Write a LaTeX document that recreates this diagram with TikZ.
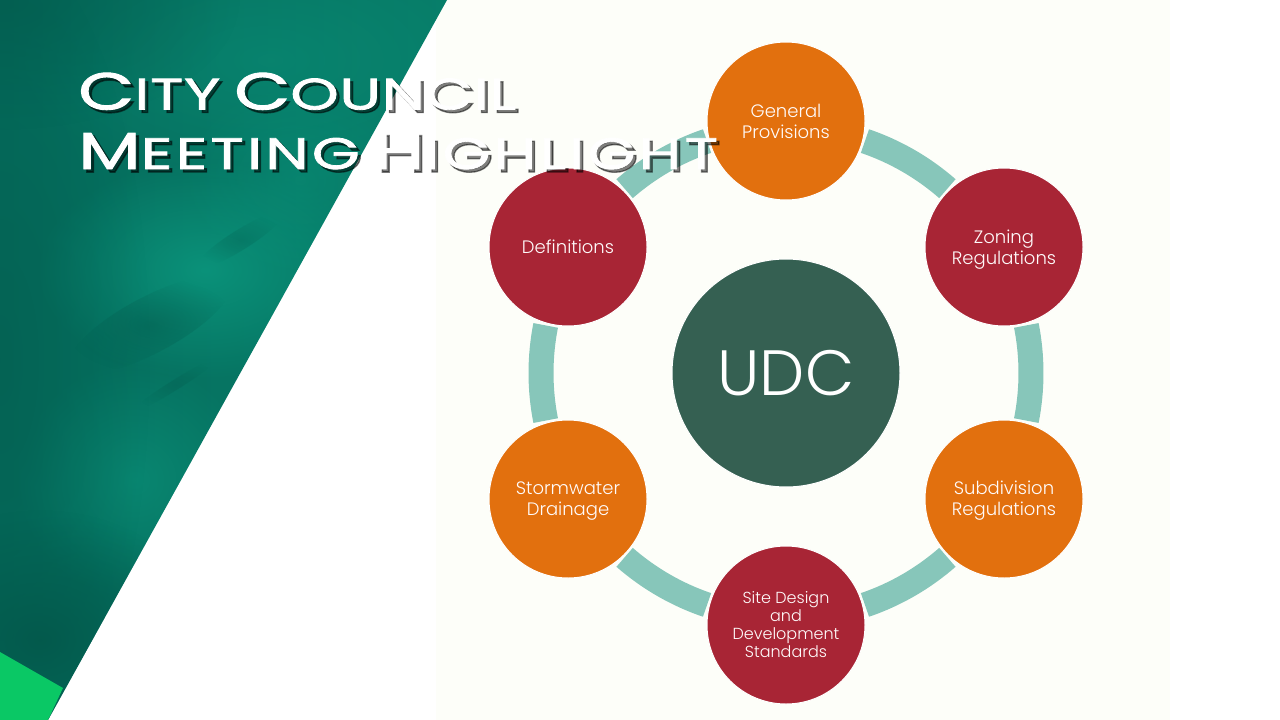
\documentclass[tikz,border=0pt]{standalone}
\usepackage{fontspec}
\setmainfont{Poppins Light}
\newfontfamily\titlefont[FakeStretch=1.4,LetterSpace=1.5,FakeBold=1.8]{Poppins}
\newfontfamily\titlewide[FakeStretch=1.4,LetterSpace=7.3,FakeBold=1.8]{Poppins}
\newfontfamily\shadowfont[FakeStretch=1.4,LetterSpace=1.5,FakeBold=3]{Poppins}
\newfontfamily\shadowwide[FakeStretch=1.4,LetterSpace=7.3,FakeBold=3]{Poppins}
\usetikzlibrary{calc,fadings}
\tikzfading[name=softspot,inner color=transparent!0,outer color=transparent!100]
\definecolor{panel}{HTML}{FDFEF9}
\definecolor{ringc}{HTML}{87C6BA}
\definecolor{orangec}{HTML}{E2700E}
\definecolor{redc}{HTML}{A82535}
\definecolor{hubc}{HTML}{356052}
\definecolor{glow}{HTML}{0C9C82}
\definecolor{mid}{HTML}{077C68}
\definecolor{base}{HTML}{056C5C}
\definecolor{deep}{HTML}{03584B}
\definecolor{lime}{HTML}{0AC865}
\newcommand{\bigc}[1]{{\fontsize{52}{52}\selectfont #1}}
\newcommand{\smc}[1]{{\fontsize{44}{44}\selectfont #1}}
\newcommand{\lineone}{\bigc{C}\smc{ITY}\hspace{14pt}\bigc{C}\smc{OUNCIL}}
\newcommand{\linetwo}{\bigc{M}\smc{EETING}\hspace{14pt}\bigc{H}\smc{IGHLIGHT}}
\newcommand{\lbl}[2]{\raisebox{-#1pt}[0pt][0pt]{\begin{tabular}{@{}c@{}}#2\end{tabular}}}
\tikzset{
 hexnode/.style={circle,minimum size=158pt,inner sep=0pt,draw=white,line width=1pt,text=white!93!pink,align=center,font=\fontsize{18}{21}\selectfont},
 orangenode/.style={hexnode,fill=orangec},
 rednode/.style={hexnode,fill=redc},
 hubnode/.style={circle,minimum size=228pt,inner sep=0pt,fill=hubc,draw=white,line width=1pt,text=white,font=\fontsize{64}{64}\selectfont},
 ringseg/.style={draw=ringc,line width=25pt,line cap=butt},
 titletext/.style={anchor=base west,inner sep=0pt,text=white},
 titleshadow/.style={anchor=base west,inner sep=0pt,text=black,text opacity=#1},
 softlight/.style={fill=glow,path fading=softspot,fill opacity=#1},
 softdark/.style={fill=deep,path fading=softspot,fill opacity=#1}
}
\begin{document}
\begin{tikzpicture}[x=1pt,y=-1pt]
\useasboundingbox (0,0) rectangle (1280,720);
\fill[white] (0,0) rectangle (1280,720);
\fill[panel] (436,0) rectangle (1170,720);
\begin{scope}
\clip (0,0) -- (447,0) -- (48,720) -- (0,720) -- cycle;
\shade[left color=base,right color=mid] (0,0) rectangle (450,720);
\fill[softlight=.75] (205,270) ellipse (170pt and 110pt);
\fill[softlight=.35] (270,60) ellipse (260pt and 130pt);
\fill[softlight=.5] (135,480) ellipse (120pt and 120pt);
\fill[softlight=.35] (300,180) ellipse (120pt and 100pt);
\fill[softdark=.45] (0,360) ellipse (150pt and 420pt);
\fill[softdark=.9] (40,640) ellipse (170pt and 130pt);
\fill[softdark=.6] (0,0) ellipse (240pt and 130pt);
\begin{scope}[shift={(150,325)},rotate=28]
\fill[softdark=.45] (0,0) ellipse (90pt and 28pt);
\end{scope}
\begin{scope}[shift={(240,240)},rotate=32]
\fill[softdark=.3] (0,0) ellipse (50pt and 10pt);
\end{scope}
\begin{scope}[shift={(175,385)},rotate=32]
\fill[softdark=.3] (0,0) ellipse (50pt and 5pt);
\end{scope}
\fill[lime] (0,652) -- (63,688) -- (48,720) -- (0,720) -- cycle;
\end{scope}
\node[hubnode] (hub) at (786,373) {UDC};
\coordinate (c) at (hub.center);
\draw[ringseg] ($(c)+(-48.8:245pt)$) coordinate (a1) arc[start angle=-48.8,end angle=-71.2,radius=245pt];
\draw[ringseg] ($(c)+(11.2:245pt)$) coordinate (a2) arc[start angle=11.2,end angle=-11.2,radius=245pt];
\draw[ringseg] ($(c)+(71.2:245pt)$) coordinate (a3) arc[start angle=71.2,end angle=48.8,radius=245pt];
\draw[ringseg] ($(c)+(131.2:245pt)$) coordinate (a4) arc[start angle=131.2,end angle=108.8,radius=245pt];
\draw[ringseg] ($(c)+(191.2:245pt)$) coordinate (a5) arc[start angle=191.2,end angle=168.8,radius=245pt];
\draw[ringseg] ($(c)+(251.2:245pt)$) coordinate (a6) arc[start angle=251.2,end angle=228.8,radius=245pt];
\node[orangenode] (gen) at (786,121) {\lbl{7}{General\\Provisions}};
\node[rednode] (zon) at (1004,247) {\lbl{7}{Zoning\\Regulations}};
\node[orangenode] (sub) at (1004,499) {\lbl{6}{Subdivision\\Regulations}};
\node[rednode,font=\fontsize{16}{18}\selectfont] (site) at (786,625) {Site Design\\and\\Development\\Standards};
\node[orangenode] (storm) at (568,499) {\lbl{6}{Stormwater\\Drainage}};
\node[rednode] (defs) at (568,247) {Definitions};
\node[titleshadow=.5,font=\shadowfont] (s1) at (81,112.5) {\lineone};
\node[titleshadow=.5,font=\shadowwide] (s2) at (81,172) {\linetwo};
\node[titletext,font=\titlefont] (t1) at (78,109.5) {\lineone};
\node[titletext,font=\titlewide] (t2) at (78,169) {\linetwo};
\end{tikzpicture}
\end{document}
